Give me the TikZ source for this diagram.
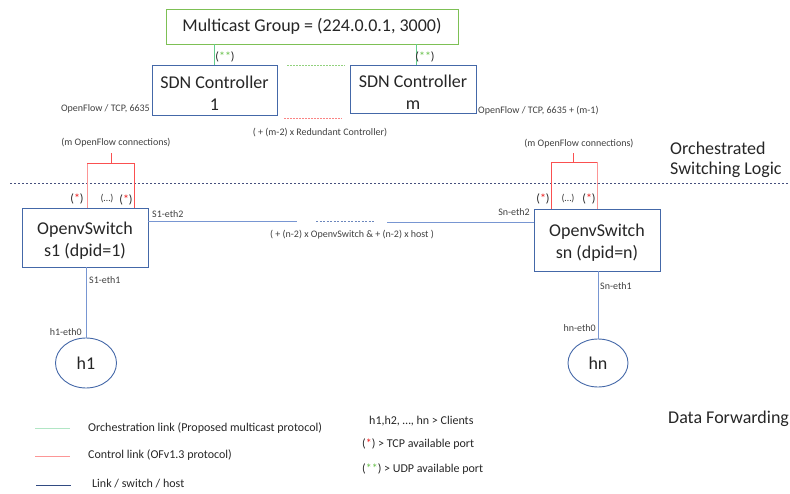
\documentclass[tikz,border=0pt]{standalone}
\usepackage{fontspec}
\setmainfont{Carlito}
\usetikzlibrary{shapes.geometric}
\newcommand{\topstrut}{\rule{0pt}{18.5pt}}
\begin{document}
\begin{tikzpicture}[x=1pt,y=-1pt,
  txt/.style={inner sep=0pt,text=black!85},
  big/.style={txt,font=\fontsize{18}{22}\selectfont},
  small/.style={txt,text=black!75,font=\fontsize{10}{12}\selectfont},
  mid/.style={txt,font=\fontsize{12}{14}\selectfont},
  box/.style={draw=boxblue,line width=0.9pt,rectangle,inner sep=0pt,align=center,big},
  host/.style={draw=boxblue,line width=0.9pt,ellipse,inner sep=0pt,big},
  link/.style={draw=linkblue,line width=0.8pt},
  ctrl/.style={draw=ctrlred,line width=0.8pt},
  ctrllight/.style={draw=ctrlred!60,line width=0.6pt},
  orch/.style={draw=orchgreen,line width=0.9pt},
  sep/.style={draw=sepcol,line width=0.6pt,dash pattern=on 2pt off 2pt},
]
\definecolor{boxblue}{RGB}{68,104,168}
\definecolor{linkblue}{RGB}{120,150,210}
\definecolor{ctrlred}{RGB}{250,80,80}
\definecolor{orchgreen}{RGB}{100,205,140}
\definecolor{mcgreen}{RGB}{125,192,85}
\definecolor{sepcol}{RGB}{70,80,125}
\definecolor{astred}{RGB}{235,20,20}
\definecolor{astgreen}{RGB}{100,190,70}
\definecolor{legblue}{RGB}{50,75,130}
\useasboundingbox (0,0) rectangle (790,494);

% Multicast group
\node[draw=mcgreen,line width=0.9pt,inner sep=0pt,minimum width=292pt,minimum height=35pt,big] (mc) at (312,26.5) {Multicast Group = (224.0.0.1, 3000)};

% controllers
\node[box,minimum width=125pt,minimum height=50pt] (c1) at (214.5,90) {\topstrut SDN Controller\\1};
\node[box,minimum width=126pt,minimum height=48pt] (cm) at (413,89) {\topstrut SDN Controller\\m};

\draw[orch] (c1.north) -- (c1.north |- mc.south);
\draw[orch] ([xshift=3pt]cm.north) -- ([xshift=3pt]cm.north |- mc.south);
\node[mid] (a1) at (225,57) {(\textcolor{astgreen}{**})};
\node[mid] (a2) at (425,57) {(\textcolor{astgreen}{**})};

% redundant controllers dotted
\coordinate (g1) at (287,65); \coordinate (g2) at (345,65);
\coordinate (r1) at (284,118); \coordinate (r2) at (342,118);
\draw[draw=astgreen!70,line width=0.6pt,dash pattern=on 1.5pt off 1.5pt] (g1) -- (g2);
\draw[draw=ctrlred!70,line width=0.6pt,dash pattern=on 1.5pt off 1.5pt] (r1) -- (r2);
\node[small] (red) at (320,133) {( + (m-2) x Redundant Controller)};

\node[small,anchor=east] (of1) at (150,109) {OpenFlow / TCP, 6635};
\node[small,anchor=west] (ofm) at (478,111) {OpenFlow / TCP, 6635 + (m-1)};

\node[small] (mc1) at (116,143) {(m OpenFlow connections)};
\node[small] (mc2) at (579,144) {(m OpenFlow connections)};

% separator
\coordinate (sepL) at (10,183); \coordinate (sepR) at (790,183);
\draw[sep] (sepL) -- (sepR);
\node[big,anchor=west,align=left,font=\fontsize{18}{20}\selectfont] (osl) at (670,160) {Orchestrated\\Switching Logic};

% switches
\node[box,minimum width=126pt,minimum height=59pt] (s1) at (85,237.5) {\topstrut OpenvSwitch\\s1 (dpid=1)};
\node[box,minimum width=126pt,minimum height=62pt] (sn) at (597,240) {\topstrut OpenvSwitch\\sn (dpid=n)};

% control brackets left
\coordinate (bl1) at (87,163); \coordinate (bl2) at (134,163); \coordinate (blt) at (111,163); \coordinate (blt2) at (111,153);
\draw[ctrllight] (bl1) -- (bl1 |- s1.north);
\draw[ctrl] (bl1) -- (bl2) -- (bl2 |- s1.north);
\draw[ctrl] (blt) -- (blt2);
% control brackets right
\coordinate (br1) at (551,162); \coordinate (br2) at (597,162); \coordinate (brt) at (573,162); \coordinate (brt2) at (573,153);
\draw[ctrl] (br1 |- sn.north) -- (br1) -- (br2);
\draw[ctrllight] (br2) -- (br2 |- sn.north);
\draw[ctrl] (brt) -- (brt2);

% port labels
\node[mid] (p1) at (77,199) {(\textcolor{astred}{*})};
\node[small] (p2) at (107,199) {(…)};
\node[mid] (p3) at (126,200) {(\textcolor{astred}{*})};
\node[mid] (p4) at (543,199) {(\textcolor{astred}{*})};
\node[small] (p5) at (568,199) {(…)};
\node[mid] (p6) at (589,199) {(\textcolor{astred}{*})};

% inter-switch link
\coordinate (l1) at (297,221); \coordinate (d1) at (316,221); \coordinate (d2) at (374,221); \coordinate (l2) at (387,222);
\draw[link] (s1.east |- l1) -- (l1);
\draw[draw=linkblue!90!black,line width=0.7pt,dash pattern=on 2pt off 1.5pt] (d1) -- (d2);
\draw[link] (l2) -- (sn.west |- l2);
\node[small,anchor=west] (s1e2) at (152,214) {S1-eth2};
\node[small,anchor=east] (sne2) at (530,212) {Sn-eth2};
\node[small] (mid) at (352,235) {( + (n-2) x OpenvSwitch \& + (n-2) x host )};

% hosts
\node[host,minimum width=61pt,minimum height=50pt] (h1) at (86,363) {h1};
\node[host,minimum width=60pt,minimum height=48pt] (hn) at (598,363) {hn};
\draw[link] (h1.north |- s1.south) -- (h1.north);
\draw[link] (hn.north |- sn.south) -- (hn.north);
\node[small,anchor=west] (s1e1) at (89,280) {S1-eth1};
\node[small,anchor=east] (h1e0) at (82,332) {h1-eth0};
\node[small,anchor=west] (sne1) at (600,286) {Sn-eth1};
\node[small,anchor=east] (hne0) at (596,328) {hn-eth0};

% legend
\coordinate (lg1) at (35,428); \coordinate (lg2) at (70,428);
\coordinate (lr1) at (35,456); \coordinate (lr2) at (70,456);
\coordinate (lb1) at (36,485); \coordinate (lb2) at (71,485);
\draw[draw=orchgreen!50,line width=0.9pt] (lg1) -- (lg2);
\draw[draw=ctrlred!60,line width=0.8pt] (lr1) -- (lr2);
\draw[draw=legblue,line width=0.8pt] (lb1) -- (lb2);
\node[mid,anchor=west] (t1) at (88,428) {Orchestration link (Proposed multicast protocol)};
\node[mid,anchor=west] (t2) at (88,455) {Control link (OFv1.3 protocol)};
\node[mid,anchor=west] (t3) at (92,484) {Link / switch / host};

\node[mid,anchor=west] (k1) at (369,421) {h1,h2, …, hn > Clients};
\node[mid,anchor=west] (k2) at (362,444) {(\textcolor{astred}{*}) > TCP available port};
\node[mid,anchor=west] (k3) at (362,469) {(\textcolor{astgreen}{**}) > UDP available port};

\node[big,anchor=west] (df) at (668,419) {Data Forwarding};
\end{tikzpicture}
\end{document}
